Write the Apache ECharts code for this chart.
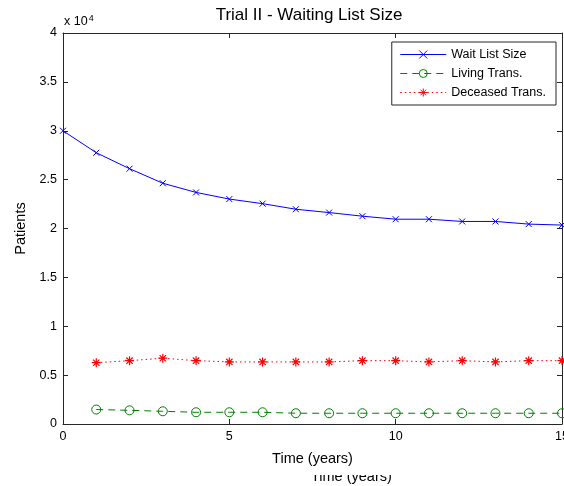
<!DOCTYPE html>
<html>
<head>
  <meta charset="utf-8">
  <title>Trial II - Waiting List Size</title>
</head>
<body style="margin: 0; background: #fff">
  <div id="chart_div" style="width: 564px; height: 486px;"></div>
  <script type="text/javascript" src="https://fastly.jsdelivr.net/npm/echarts@6/dist/echarts.min.js"></script>
  <script type="text/javascript">
    // values
    var waitYears = [0, 1, 2, 3, 4, 5, 6, 7, 8, 9, 10, 11, 12, 13, 14, 15];
    var waitList = [30000, 27750, 26120, 24630, 23690, 23010, 22540, 21970, 21630, 21260, 20950, 20950, 20720, 20720, 20450, 20350];
    var transYears = [1, 2, 3, 4, 5, 6, 7, 8, 9, 10, 11, 12, 13, 14, 15];
    var living = [1480, 1400, 1300, 1200, 1200, 1200, 1100, 1100, 1100, 1100, 1100, 1100, 1100, 1100, 1100];
    var deceased = [6270, 6480, 6730, 6480, 6350, 6350, 6350, 6350, 6480, 6480, 6350, 6480, 6350, 6480, 6480];
    var yTicks = ['0', '0.5', '1', '1.5', '2', '2.5', '3', '3.5', '4'];

    function pairs(xs, ys) {
      var out = [];
      for (var i = 0; i < xs.length; i++) out.push([xs[i], ys[i]]);
      return out;
    }

    var font = 'Liberation Sans, Arial, sans-serif';
    var axisCol = '#262626';
    var dom = document.getElementById('chart_div');
    var myChart = echarts.init(dom, null, { renderer: 'canvas' });

    var tickStyle = { show: true, inside: true, length: 5, lineStyle: { color: axisCol } };
    var lineStyleAx = { show: true, onZero: false, lineStyle: { color: axisCol } };

    var option = {
      backgroundColor: '#fff',
      animation: false,
      textStyle: { fontFamily: font },
      title: {
        text: 'Trial II - Waiting List Size',
        left: 309, top: 7, padding: 0, textAlign: 'center',
        textStyle: { fontFamily: font, fontSize: 17, fontWeight: 'normal', color: '#000' }
      },
      legend: {
        orient: 'vertical',
        right: 8, top: 42,
        padding: [6, 10, 6, 8],
        itemGap: 6,
        itemWidth: 46, itemHeight: 10,
        borderColor: axisCol, borderWidth: 1, borderRadius: 0,
        backgroundColor: '#fff',
        lineStyle: { width: 1 },
        itemStyle: { borderWidth: 1 },
        textStyle: { fontFamily: font, fontSize: 12.5, color: '#000' },
        data: ['Wait List Size', 'Living Trans.', 'Deceased Trans.']
      },
      grid: { left: 63, right: 2, top: 33, bottom: 62, outerBoundsMode: 'none', containLabel: false },
      xAxis: [{
        type: 'value', min: 0, max: 15, interval: 5,
        name: 'Time (years)', nameLocation: 'middle', nameGap: 27,
        nameTextStyle: { fontFamily: font, fontSize: 14.5, color: '#000' },
        axisLine: lineStyleAx,
        axisTick: tickStyle,
        axisLabel: { fontFamily: font, fontSize: 12.5, color: '#000', margin: 6 },
        splitLine: { show: false }
      }, {
        type: 'value', min: 0, max: 15, interval: 5, position: 'top',
        axisLine: lineStyleAx,
        axisTick: tickStyle,
        axisLabel: { show: false },
        splitLine: { show: false }
      }],
      yAxis: [{
        type: 'value', min: 0, max: 40000, interval: 5000,
        name: 'Patients', nameLocation: 'middle', nameGap: 30,
        nameTextStyle: { fontFamily: font, fontSize: 14.5, color: '#000' },
        axisLine: lineStyleAx,
        axisTick: tickStyle,
        axisLabel: {
          fontFamily: font, fontSize: 12.5, color: '#000', margin: 6,
          formatter: function (v) { return yTicks[Math.round(v / 5000)]; }
        },
        splitLine: { show: false }
      }, {
        type: 'value', min: 0, max: 40000, interval: 5000, position: 'right',
        axisLine: lineStyleAx,
        axisTick: tickStyle,
        axisLabel: { show: false },
        splitLine: { show: false }
      }],
      series: [
        {
          name: 'Wait List Size',
          type: 'line',
          data: pairs(waitYears, waitList),
          symbol: 'path://M0,0L10,10M10,0L0,10',
          symbolSize: 6,
          lineStyle: { color: '#0000ff', width: 1 },
          itemStyle: { color: '#0000ff', borderColor: '#0000ff', borderWidth: 1 }
        },
        {
          name: 'Living Trans.',
          type: 'line',
          data: pairs(transYears, living),
          symbol: 'circle',
          symbolSize: 9,
          lineStyle: { color: '#008000', width: 1, type: [7, 5] },
          itemStyle: { color: 'rgba(0,0,0,0)', borderColor: '#008000', borderWidth: 1 }
        },
        {
          name: 'Deceased Trans.',
          type: 'line',
          data: pairs(transYears, deceased),
          symbol: 'path://M5,0L5,10M0,5L10,5M1.5,1.5L8.5,8.5M8.5,1.5L1.5,8.5',
          symbolSize: 9,
          lineStyle: { color: '#ff0000', width: 1, type: [1.5, 3] },
          itemStyle: { color: '#ff0000', borderColor: '#ff0000', borderWidth: 1.2 }
        }
      ],
      graphic: [
        {
          type: 'text', left: 64, top: 14,
          style: {
            text: '{a|x 10}{b|4}',
            rich: {
              a: { fontFamily: font, fontSize: 12.5, fill: '#000' },
              b: { fontFamily: font, fontSize: 9, fill: '#000', verticalAlign: 'top', padding: [0, 0, 7, 1] }
            }
          }
        },
        {
          type: 'text', left: 311, top: 469, z: 1,
          style: { text: 'Time (years)', fontFamily: font, fontSize: 14.5, fill: '#000' }
        },
        {
          type: 'rect', left: 300, top: 466, z: 2,
          shape: { width: 110, height: 9 },
          style: { fill: '#fff' }
        }
      ]
    };

    myChart.setOption(option);
  </script>
</body>
</html>
